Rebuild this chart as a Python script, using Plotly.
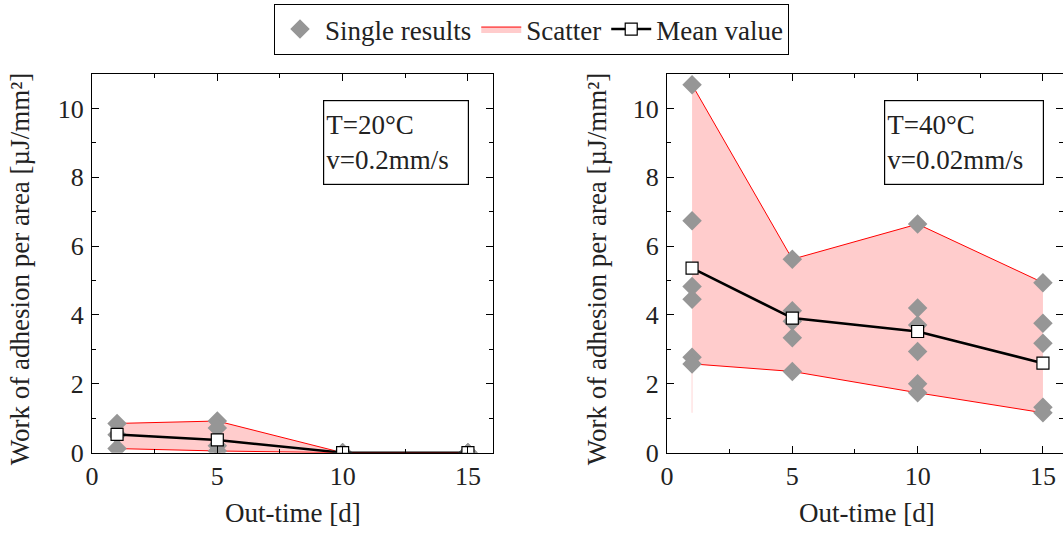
import plotly.graph_objects as go

W, H = 1063, 534
FONT = "Liberation Serif, DejaVu Serif, Times New Roman, serif"
FS = 27
TFS = 26

# ---- data ----
days = [1, 5, 10, 15]

# T=20°C, v=0.2 mm/s
left_single_x = [1, 1, 1, 5, 5, 5, 5, 10, 10, 10, 15, 15, 15]
left_single_y = [0.85, 0.52, 0.12, 0.92, 0.72, 0.20, 0.05, 0.0, 0.0, 0.0, 0.0, 0.0, 0.0]
left_mean = [0.53, 0.37, 0.0, 0.0]

# T=40°C, v=0.02 mm/s
right_single_x = [1, 1, 1, 1, 1, 1, 5, 5, 5, 5, 5, 10, 10, 10, 10, 10, 10, 15, 15, 15, 15, 15]
right_single_y = [10.69, 6.74, 4.83, 4.46, 2.77, 2.58,
                  5.62, 4.12, 3.82, 3.34, 2.36,
                  6.64, 4.20, 3.71, 2.94, 2.00, 1.74,
                  4.94, 3.76, 3.18, 1.32, 1.16]
right_mean = [5.36, 3.91, 3.52, 2.60]

x_ticks = [0, 5, 10, 15]
y_ticks = [0, 2, 4, 6, 8, 10]
labels = {"left": ["T=20°C", "v=0.2mm/s"], "right": ["T=40°C", "v=0.02mm/s"]}
x_title = "Out-time [d]"
y_title = "Work of adhesion per area [µJ/mm²]"
legend_names = ["Single results", "Scatter", "Mean value"]


def envelope(xs, ys):
    up, lo = [], []
    for d in days:
        vals = [y for x, y in zip(xs, ys) if x == d]
        up.append(max(vals))
        lo.append(min(vals))
    return up, lo


fig = go.Figure()

PINK = "rgb(255,204,204)"
GRAY = "rgb(150,150,150)"

panels = [
    ("x", "y", left_single_x, left_single_y, left_mean, True),
    ("x2", "y2", right_single_x, right_single_y, right_mean, False),
]
for xa, ya, sx, sy, mean, show in panels:
    up, lo = envelope(sx, sy)
    fig.add_trace(go.Scatter(x=days, y=lo, xaxis=xa, yaxis=ya, mode="lines",
                             line=dict(color="red", width=1), showlegend=False,
                             hoverinfo="skip"))
    fig.add_trace(go.Scatter(x=days, y=up, xaxis=xa, yaxis=ya, mode="lines",
                             line=dict(color="red", width=1), fill="tonexty",
                             fillcolor=PINK, name=legend_names[1], showlegend=show,
                             legendrank=2))
    if not show:
        # faint fill artefact at first day
        fig.add_trace(go.Scatter(x=[days[0], days[0]], y=[lo[0], min(lo)],
                                 xaxis=xa, yaxis=ya, mode="lines",
                                 line=dict(color="rgb(255,228,228)", width=1.5),
                                 showlegend=False, hoverinfo="skip"))
    fig.add_trace(go.Scatter(x=sx, y=sy, xaxis=xa, yaxis=ya, mode="markers",
                             marker=dict(symbol="diamond", size=15, color=GRAY),
                             name=legend_names[0], showlegend=show, legendrank=1))
    fig.add_trace(go.Scatter(x=days, y=mean, xaxis=xa, yaxis=ya, mode="lines+markers",
                             line=dict(color="black", width=2.5),
                             marker=dict(symbol="square", size=12, color="white",
                                         line=dict(color="black", width=1.2)),
                             name=legend_names[2], showlegend=show, legendrank=3))

ytop = 1 - 74 / H
ybot = 1 - 452.7 / H

axis_common = dict(showline=True, linecolor="black", linewidth=1.2, mirror="allticks",
                   ticks="inside", ticklen=7, tickwidth=1, tickcolor="black",
                   showgrid=False, zeroline=False,
                   tickfont=dict(family=FONT, size=TFS, color="#222"))
xminor = dict(dtick=2.5, tick0=0, ticks="inside", ticklen=4, tickcolor="black")
yminor = dict(dtick=1, tick0=0, ticks="inside", ticklen=4, tickcolor="black")

fig.update_layout(
    width=W, height=H,
    margin=dict(l=0, r=0, t=0, b=0, autoexpand=False),
    paper_bgcolor="white", plot_bgcolor="white",
    font=dict(family=FONT, size=FS, color="#222"),
    xaxis=dict(domain=[92 / W, 493 / W], range=[0, 16], tickvals=x_ticks, minor=xminor,
               ticklabelstandoff=0, anchor="y", **axis_common),
    yaxis=dict(domain=[ybot, ytop], range=[0, 11], tickvals=y_ticks, minor=yminor,
               ticklabelstandoff=2, anchor="x", **axis_common),
    xaxis2=dict(domain=[667 / W, 1.0], range=[0, 15.8], tickvals=x_ticks, minor=xminor,
                ticklabelstandoff=0, anchor="y2", **axis_common),
    yaxis2=dict(domain=[ybot, ytop], range=[0, 11], tickvals=y_ticks, minor=yminor,
                ticklabelstandoff=2, anchor="x2", **axis_common),
    legend=dict(orientation="h", x=0.5, xanchor="center", y=1 - 4 / H, yanchor="top",
                bordercolor="black", borderwidth=1, bgcolor="white",
                traceorder="normal",
                font=dict(family=FONT, size=FS, color="#222"),
                itemwidth=40, tracegroupgap=0),
)

ann = []
# axis titles
for cx in (20, 597):
    ann.append(dict(text=y_title, x=cx / W, y=(ytop + ybot) / 2 - 6 / H, xref="paper",
                    yref="paper", textangle=-90, showarrow=False, xanchor="center",
                    yanchor="middle", font=dict(family=FONT, size=FS, color="#222")))
for cx in (292.5, 867):
    ann.append(dict(text=x_title, x=cx / W, y=1 - 513 / H, xref="paper", yref="paper",
                    showarrow=False, xanchor="center", yanchor="middle",
                    font=dict(family=FONT, size=FS, color="#222")))
# condition boxes
for key, lx, bw in (("left", 323, 140), ("right", 884, 154)):
    ann.append(dict(text="<br>".join(labels[key]), x=lx / W, y=1 - 100 / H,
                    xref="paper", yref="paper", xanchor="left", yanchor="top",
                    align="left", valign="middle", width=bw, height=79,
                    showarrow=False, bordercolor="black", borderwidth=1.2,
                    borderpad=2, bgcolor="white",
                    font=dict(family=FONT, size=FS, color="#222")))
fig.update_layout(annotations=ann)

fig.write_html("out.html")
